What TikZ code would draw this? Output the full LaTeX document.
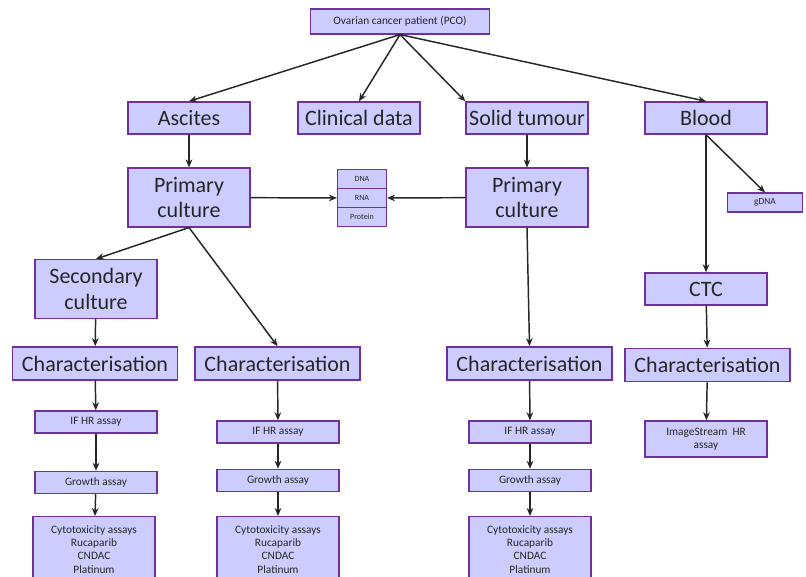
\documentclass[tikz,border=0pt]{standalone}
\usepackage{fontspec}
\setmainfont{Carlito}
\usepackage{tikz}
\usetikzlibrary{arrows.meta}

\begin{document}
\begin{tikzpicture}[x=0.75pt,y=-0.75pt,
  box/.style={draw=boxline,fill=boxfill,line width=1.1pt,text=black!85,inner sep=1pt,align=center},
  big/.style={box,font=\fontsize{16.5}{19}\selectfont,minimum width=91.5pt,minimum height=24pt},
  tall/.style={big,minimum height=44pt},
  chr/.style={big,minimum width=124pt,minimum height=25pt},
  small/.style={box,font=\fontsize{8.5}{10}\selectfont,minimum width=91.5pt,minimum height=16.5pt},
  tiny/.style={box,font=\fontsize{6}{7}\selectfont,minimum width=36.5pt,minimum height=14pt},
  arr/.style={-{Stealth[length=6pt,width=5pt]},line width=1.1pt,black!85}]
\definecolor{boxfill}{RGB}{204,204,255}
\definecolor{boxline}{RGB}{112,48,160}
\clip (0,0) rectangle (806,576);
\useasboundingbox (0,0) rectangle (806,576);
% top row
\node[box,font=\fontsize{8.5}{10}\selectfont,minimum width=134pt,minimum height=18.5pt] (pco) at (400,21.5) {Ovarian cancer patient (PCO)};
\node[big] (asc) at (189,118) {Ascites};
\node[big] (clin) at (359,118) {Clinical data};
\node[big] (sol) at (527,118) {Solid tumour};
\node[big] (blood) at (706,118) {Blood};
% cultures
\node[tall] (pcl) at (189,197.5) {Primary\\culture};
\node[tall] (pcr) at (527,197.5) {Primary\\culture};
\node[tiny] (dna) at (362,179) {DNA};
\node[tiny] (rna) at (362,198) {RNA};
\node[tiny] (prot) at (362,217) {Protein};
\node[box,font=\fontsize{7}{8}\selectfont,minimum width=56pt,minimum height=14pt] (gdna) at (765,202.5) {gDNA};
\node[tall] (sec) at (96,289) {Secondary\\culture};
\node[big] (ctc) at (706,289) {CTC};
% characterisation
\node[chr] (ch1) at (95,363.5) {Characterisation};
\node[chr] (ch2) at (277.5,363.5) {Characterisation};
\node[chr] (ch3) at (529.5,363.5) {Characterisation};
\node[chr] (ch4) at (707.5,365) {Characterisation};
% assays
\node[small] (if1) at (96,422) {IF HR assay};
\node[small] (gr1) at (96,482.5) {Growth assay};
\node[small,minimum height=49pt,anchor=north] (cy1) at (94,516) {Cytotoxicity assays\\Rucaparib\\CNDAC\\Platinum};
\node[small] (if2) at (278,432) {IF HR assay};
\node[small] (gr2) at (278,480.5) {Growth assay};
\node[small,minimum height=49pt,anchor=north] (cy2) at (278,516) {Cytotoxicity assays\\Rucaparib\\CNDAC\\Platinum};
\node[small] (if3) at (530,432) {IF HR assay};
\node[small] (gr3) at (530,480.5) {Growth assay};
\node[small,minimum height=49pt,anchor=north] (cy3) at (530,516) {Cytotoxicity assays\\Rucaparib\\CNDAC\\Platinum};
\node[small,minimum height=27pt] (img) at (706,439) {ImageStream \ HR\\assay};
% arrows
\draw[arr] (pco.south) -- (asc.north);
\draw[arr] (pco.south) -- (clin.north);
\draw[arr] (pco.south) -- (sol.north west);
\draw[arr] (pco.south) -- (blood.north);
\draw[arr] (asc) -- (pcl);
\draw[arr] (sol) -- (pcr);
\draw[arr] (pcl) -- (rna);
\draw[arr] (pcr) -- (rna);
\draw[arr] (blood.south) -- (gdna.north);
\draw[arr] (blood.south) -- (ctc.north);
\draw[arr] (pcl.south) -- (sec.north);
\draw[arr] (pcl.south) -- (ch2.north);
\draw[arr] (sec) -- (ch1);
\draw[arr] (pcr.south) -- (ch3.north);
\draw[arr] (ctc) -- (ch4);
\draw[arr] (ch1) -- (if1);
\draw[arr] (if1) -- (gr1);
\draw[arr] (gr1) -- (cy1);
\draw[arr] (ch2) -- (if2);
\draw[arr] (if2) -- (gr2);
\draw[arr] (gr2) -- (cy2);
\draw[arr] (ch3) -- (if3);
\draw[arr] (if3) -- (gr3);
\draw[arr] (gr3) -- (cy3);
\draw[arr] (ch4) -- (img);
\end{tikzpicture}
\end{document}
